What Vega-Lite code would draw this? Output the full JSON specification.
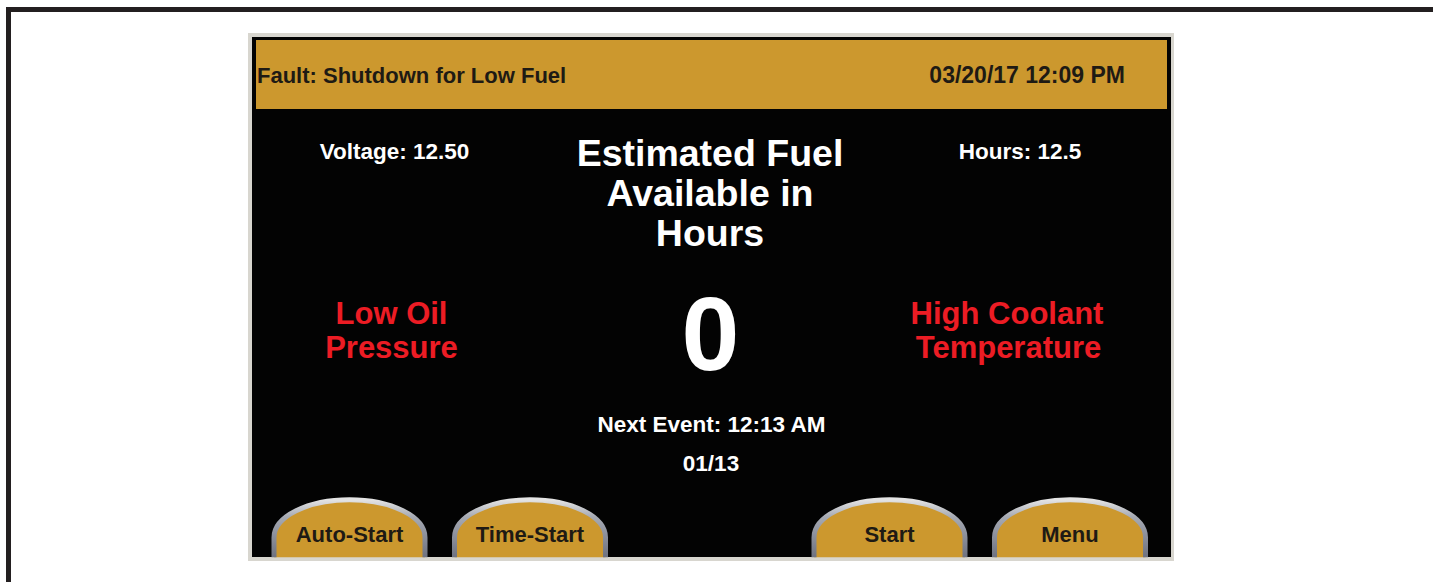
{
  "$schema": "https://vega.github.io/schema/vega-lite/v6.json",
  "width": 1433,
  "height": 582,
  "autosize": {"type": "fit", "contains": "padding"},
  "padding": 0,
  "background": "#ffffff",
  "config": {"view": {"stroke": null}, "text": {"font": "Liberation Sans"}},
  "datasets": {
    "rects": [
      {"role": "frame", "x": 6, "x2": 1433, "y": 7, "y2": 12},
      {"role": "frame", "x": 6, "x2": 11, "y": 7, "y2": 582},
      {"role": "bezel", "x": 248, "x2": 1174, "y": 33, "y2": 561},
      {"role": "screen", "x": 252, "x2": 1171, "y": 37, "y2": 557},
      {"role": "header", "x": 256, "x2": 1167, "y": 40, "y2": 109}
    ],
    "texts": [
      {"role": "headerLeft", "x": 257, "y": 76, "text": "Fault: Shutdown for Low Fuel"},
      {"role": "headerRight", "x": 1125, "y": 76, "text": "03/20/17 12:09 PM"},
      {"role": "info", "x": 394.5, "y": 152, "text": "Voltage: 12.50"},
      {"role": "info", "x": 1020, "y": 152, "text": "Hours: 12.5"},
      {"role": "title", "x": 710, "y": 155, "text": "Estimated Fuel"},
      {"role": "title", "x": 710, "y": 195, "text": "Available in"},
      {"role": "title", "x": 710, "y": 235, "text": "Hours"},
      {"role": "alarm", "x": 391.5, "y": 315, "text": "Low Oil"},
      {"role": "alarm", "x": 391.5, "y": 349, "text": "Pressure"},
      {"role": "alarm", "x": 1007, "y": 315, "text": "High Coolant"},
      {"role": "alarm", "x": 1008.5, "y": 349, "text": "Temperature"},
      {"role": "value", "x": 710.5, "y": 339, "text": "0"},
      {"role": "info", "x": 711.5, "y": 425, "text": "Next Event: 12:13 AM"},
      {"role": "info", "x": 711, "y": 464, "text": "01/13"}
    ],
    "buttons": [
      {"x": 349.5, "y": 530, "label": "Auto-Start"},
      {"x": 530, "y": 530, "label": "Time-Start"},
      {"x": 889.5, "y": 530, "label": "Start"},
      {"x": 1070, "y": 530, "label": "Menu"}
    ]
  },
  "layer": [
    {
      "data": {"name": "rects"},
      "transform": [{"filter": "datum.role === 'frame'"}],
      "mark": {"type": "rect", "color": "#231f20"},
      "encoding": {
        "x": {"field": "x", "type": "quantitative", "scale": {"domain": [0, 1433], "nice": false, "zero": false}, "axis": null},
        "x2": {"field": "x2"},
        "y": {"field": "y", "type": "quantitative", "scale": {"domain": [0, 582], "nice": false, "zero": false, "reverse": true}, "axis": null},
        "y2": {"field": "y2"}
      }
    },
    {
      "data": {"name": "rects"},
      "transform": [{"filter": "datum.role === 'bezel'"}],
      "mark": {"type": "rect", "color": "#d8d6cf"},
      "encoding": {
        "x": {"field": "x", "type": "quantitative", "axis": null},
        "x2": {"field": "x2"},
        "y": {"field": "y", "type": "quantitative", "axis": null},
        "y2": {"field": "y2"}
      }
    },
    {
      "data": {"name": "rects"},
      "transform": [{"filter": "datum.role === 'screen'"}],
      "mark": {"type": "rect", "color": "#030303"},
      "encoding": {
        "x": {"field": "x", "type": "quantitative", "axis": null},
        "x2": {"field": "x2"},
        "y": {"field": "y", "type": "quantitative", "axis": null},
        "y2": {"field": "y2"}
      }
    },
    {
      "data": {"name": "rects"},
      "transform": [{"filter": "datum.role === 'header'"}],
      "mark": {"type": "rect", "color": "#cc982e"},
      "encoding": {
        "x": {"field": "x", "type": "quantitative", "axis": null},
        "x2": {"field": "x2"},
        "y": {"field": "y", "type": "quantitative", "axis": null},
        "y2": {"field": "y2"}
      }
    },
    {
      "data": {"name": "buttons"},
      "mark": {
        "type": "point",
        "filled": true,
        "shape": "M -1 0.36 L -1 0.1 A 1 0.5 0 0 1 1 0.1 L 1 0.36",
        "size": 22801,
        "fill": "#cc982e",
        "fillOpacity": 1,
        "stroke": {
          "gradient": "linear",
          "x1": 0, "y1": 0, "x2": 0, "y2": 1,
          "stops": [
            {"offset": 0, "color": "#e4e4e4"},
            {"offset": 0.3, "color": "#a6aab3"},
            {"offset": 1, "color": "#6e7280"}
          ]
        },
        "strokeWidth": 5,
        "strokeOpacity": 1,
        "opacity": 1
      },
      "encoding": {
        "x": {"field": "x", "type": "quantitative", "axis": null},
        "y": {"field": "y", "type": "quantitative", "axis": null}
      }
    },
    {
      "data": {"name": "buttons"},
      "mark": {"type": "text", "fontSize": 22, "fontWeight": "bold", "color": "#1e1a14", "baseline": "middle", "align": "center", "dy": 5},
      "encoding": {
        "x": {"field": "x", "type": "quantitative", "axis": null},
        "y": {"field": "y", "type": "quantitative", "axis": null},
        "text": {"field": "label"}
      }
    },
    {
      "data": {"name": "texts"},
      "transform": [{"filter": "datum.role === 'headerLeft'"}],
      "mark": {"type": "text", "fontSize": 22, "fontWeight": "bold", "color": "#1e1a14", "baseline": "middle", "align": "left"},
      "encoding": {
        "x": {"field": "x", "type": "quantitative", "axis": null},
        "y": {"field": "y", "type": "quantitative", "axis": null},
        "text": {"field": "text"}
      }
    },
    {
      "data": {"name": "texts"},
      "transform": [{"filter": "datum.role === 'headerRight'"}],
      "mark": {"type": "text", "fontSize": 23, "fontWeight": "bold", "color": "#1e1a14", "baseline": "middle", "align": "right"},
      "encoding": {
        "x": {"field": "x", "type": "quantitative", "axis": null},
        "y": {"field": "y", "type": "quantitative", "axis": null},
        "text": {"field": "text"}
      }
    },
    {
      "data": {"name": "texts"},
      "transform": [{"filter": "datum.role === 'info'"}],
      "mark": {"type": "text", "fontSize": 22.5, "fontWeight": "bold", "color": "#ffffff", "baseline": "middle", "align": "center"},
      "encoding": {
        "x": {"field": "x", "type": "quantitative", "axis": null},
        "y": {"field": "y", "type": "quantitative", "axis": null},
        "text": {"field": "text"}
      }
    },
    {
      "data": {"name": "texts"},
      "transform": [{"filter": "datum.role === 'title'"}],
      "mark": {"type": "text", "fontSize": 37.5, "fontWeight": "bold", "color": "#ffffff", "baseline": "middle", "align": "center"},
      "encoding": {
        "x": {"field": "x", "type": "quantitative", "axis": null},
        "y": {"field": "y", "type": "quantitative", "axis": null},
        "text": {"field": "text"}
      }
    },
    {
      "data": {"name": "texts"},
      "transform": [{"filter": "datum.role === 'alarm'"}],
      "mark": {"type": "text", "fontSize": 31, "fontWeight": "bold", "color": "#ec1c24", "baseline": "middle", "align": "center"},
      "encoding": {
        "x": {"field": "x", "type": "quantitative", "axis": null},
        "y": {"field": "y", "type": "quantitative", "axis": null},
        "text": {"field": "text"}
      }
    },
    {
      "data": {"name": "texts"},
      "transform": [{"filter": "datum.role === 'value'"}],
      "mark": {"type": "text", "fontSize": 104, "fontWeight": "bold", "color": "#ffffff", "baseline": "middle", "align": "center"},
      "encoding": {
        "x": {"field": "x", "type": "quantitative", "axis": null},
        "y": {"field": "y", "type": "quantitative", "axis": null},
        "text": {"field": "text"}
      }
    }
  ]
}
